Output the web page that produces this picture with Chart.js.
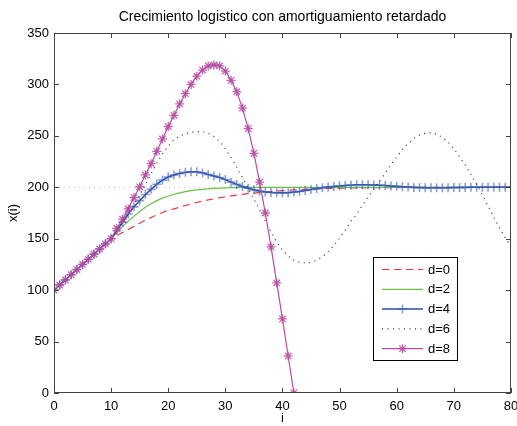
<!DOCTYPE html>
<html>
<head>
<meta charset="utf-8">
<script src="https://cdn.jsdelivr.net/npm/chart.js@4.4.1/dist/chart.umd.min.js"></script>
<style>
html, body { margin: 0; padding: 0; background: #fff; }
#wrap { width: 517px; height: 426px; }
</style>
</head>
<body>
<div id="wrap"><canvas id="c" width="517" height="426"></canvas></div>
<script>
const d0 = [100,105,110,115,120,125,130,135,140,145,150,
  153,156,159,162,165,168,170.7,173.2,175.5,177.7,
  179,180.7,182.3,183.8,185.2,186.5,187.7,188.8,189.8,190.7,
  191.6,192.4,193.1,193.8,194.4,194.9,195.4,195.9,196.3,196.7,
  197.1,197.4,197.7,198,198.3,198.5,198.7,198.9,199,199.15,
  199.3,199.4,199.45,199.5,199.55,199.6,199.65,199.7,199.72,199.75,
  199.77,199.8,199.82,199.84,199.86,199.87,199.88,199.89,199.9,199.91,
  199.92,199.93,199.93,199.94,199.95,199.95,199.96,199.96,199.97,199.97]

const d2 = [100,105,110,115,120,125,130,135,140,145,150,
  156,162,167,172,176.5,180.5,184,187,189.5,191.5,
  193.2,194.6,195.8,196.7,197.4,198,198.5,198.9,199.2,199.4,
  199.6,199.7,199.8,199.9,200,200,200,200,200,200,
  200,200,200,200,200,200,200,200,200,200,
  200,200,200,200,200,200,200,200,200,200,
  200,200,200,200,200,200,200,200,200,200,
  200,200,200,200,200,200,200,200,200,200]

const d4 = [100,105,110,115,120,125,130,135,140,145,150,
  158,166,174,181,187,193,198,203,207,210,
  212,213.5,214.5,215,215,214,212.5,211,209.5,207.5,
  205,202.8,200.8,199,197.5,196.3,195.5,195,194.7,194.6,
  194.8,195.3,196,196.9,197.8,198.7,199.5,200.2,200.8,201.3,
  201.8,202.1,202.4,202.5,202.5,202.3,202,201.7,201.3,200.9,
  200.5,200.2,199.9,199.7,199.6,199.5,199.5,199.5,199.6,199.7,
  199.8,199.9,200,200,200.1,200.1,200.1,200.1,200,200]

const d6 = [100,105,110,115,120,125,130,135,140,145,150,
  158,166,174.5,183.5,192.5,202.5,213,223.5,232.5,240,
  246,249.8,252,253.5,254.2,254,252.5,249.5,244.5,237.5,
  229,219.5,209.5,199,188.5,178,167,156.5,147,139,
  133,129,127,126.5,127,129,132.5,137.5,143.5,150.5,
  158.5,167,174,182.5,190.5,198.5,206,214,222,229.5,
  236.5,242.5,247.5,250.8,252.5,253,251.8,248.5,244,237.5,
  230,221.5,212.5,203,192.5,182,171,160.5,151,143]

const d8 = [100,105,110,115,120,125,130,135,140,145,150,
  160,169,179,190,200.5,212,223,235,247,259,
  270,281,291,300,308,314,318,319,318,313,
  304,293,277,257,233,205,175,142,107,72,
  36,0]

const capacity = [200, 200]
const capacityAt = [0, 80]

const xTicks = [0, 10, 20, 30, 40, 50, 60, 70, 80]
const yTicks = [0, 50, 100, 150, 200, 250, 300, 350]

const font = '"Liberation Sans", Arial, Helvetica, sans-serif'

function pts(values) {
    return values.map((v, i) => ({ x: i, y: v }))
}

const framePlugin = {
    id: 'frame',
    afterDraw(chart) {
        const { ctx, chartArea: a, scales } = chart
        ctx.save()
        ctx.strokeStyle = '#444'
        ctx.lineWidth = 1
        ctx.strokeRect(Math.round(a.left) + 0.5, Math.round(a.top) + 0.5,
            Math.round(a.right - a.left) - 1, Math.round(a.bottom - a.top) - 1)
        ctx.beginPath()
        for (const t of xTicks) {
            const x = Math.round(scales.x.getPixelForValue(t)) + 0.5
            ctx.moveTo(x, a.bottom); ctx.lineTo(x, a.bottom - 5)
            ctx.moveTo(x, a.top); ctx.lineTo(x, a.top + 5)
        }
        for (const t of yTicks) {
            const y = Math.round(scales.y.getPixelForValue(t)) + 0.5
            ctx.moveTo(a.left, y); ctx.lineTo(a.left + 5, y)
            ctx.moveTo(a.right, y); ctx.lineTo(a.right - 5, y)
        }
        ctx.stroke()

        // titulo
        ctx.fillStyle = '#000'
        ctx.font = '14px ' + font
        ctx.textAlign = 'center'
        ctx.textBaseline = 'middle'
        ctx.fillText('Crecimiento logistico con amortiguamiento retardado', (a.left + a.right) / 2, 17)
        ctx.restore()
    }
}

const legendPlugin = {
    id: 'boxLegend',
    afterDraw(chart) {
        const { ctx, chartArea: a } = chart
        const items = chart.data.datasets.filter(ds => ds.label)
        const w = 84, h = 103
        const left = Math.round(a.right) - 54 - w
        const top = Math.round(a.bottom) - 33 - h
        ctx.save()
        ctx.fillStyle = '#fff'
        ctx.fillRect(left, top, w, h)
        ctx.strokeStyle = '#000'
        ctx.lineWidth = 1
        ctx.strokeRect(left + 0.5, top + 0.5, w, h)
        items.forEach((ds, k) => {
            const y = top + 12.5 + k * 19.8
            ctx.strokeStyle = ds.borderColor
            ctx.lineWidth = ds.borderWidth
            ctx.setLineDash(ds.borderDash || [])
            ctx.beginPath()
            ctx.moveTo(left + 9, y)
            ctx.lineTo(left + 50, y)
            ctx.stroke()
            ctx.setLineDash([])
            if (ds.pointRadius > 0) {
                ctx.strokeStyle = ds.pointBorderColor
                ctx.lineWidth = ds.pointBorderWidth
                Chart.helpers.drawPoint(ctx, {
                    pointStyle: ds.pointStyle, radius: ds.pointRadius,
                    rotation: 0, borderWidth: ds.pointBorderWidth
                }, left + 29.5, y)
            }
            ctx.fillStyle = '#000'
            ctx.font = '13px ' + font
            ctx.textAlign = 'left'
            ctx.textBaseline = 'middle'
            ctx.fillText(ds.label, left + 55, y + 0.5)
        })
        ctx.restore()
    }
}

const chart = new Chart(document.getElementById('c'), {
    type: 'line',
    data: {
        datasets: [
            {
                label: '',
                data: capacity.map((v, i) => ({ x: capacityAt[i], y: v })),
                borderColor: 'rgba(238,150,165,0.9)',
                borderWidth: 1,
                borderDash: [1, 4],
                pointRadius: 0,
                order: 6
            },
            {
                label: 'd=0',
                data: pts(d0),
                borderColor: '#e8373c',
                borderWidth: 1.2,
                borderDash: [7, 5],
                pointRadius: 0,
                order: 5
            },
            {
                label: 'd=2',
                data: pts(d2),
                borderColor: '#6cc04a',
                borderWidth: 1.2,
                pointRadius: 0,
                order: 4
            },
            {
                label: 'd=4',
                data: pts(d4),
                borderColor: '#2c4ea6',
                borderWidth: 1.5,
                pointStyle: 'cross',
                pointRadius: 4.5,
                pointBorderWidth: 1.6,
                pointBorderColor: 'rgba(60,95,185,0.6)',
                pointBackgroundColor: 'rgba(0,0,0,0)',
                order: 3
            },
            {
                label: 'd=6',
                data: pts(d6),
                borderColor: '#333',
                borderWidth: 1.2,
                borderDash: [1, 4.5],
                pointRadius: 0,
                order: 2
            },
            {
                label: 'd=8',
                data: pts(d8),
                borderColor: '#b94ca3',
                borderWidth: 1.2,
                pointStyle: 'star',
                pointRadius: 4.5,
                pointBorderWidth: 1.3,
                pointBorderColor: 'rgba(180,70,160,0.85)',
                pointBackgroundColor: 'rgba(0,0,0,0)',
                order: 1
            }
        ]
    },
    options: {
        responsive: false,
        animation: false,
        layout: {
            padding: { top: 33, right: 6, left: 0, bottom: 0 }
        },
        elements: {
            line: { tension: 0, fill: false }
        },
        plugins: {
            legend: { display: false },
            title: { display: false },
            tooltip: { enabled: false }
        },
        scales: {
            x: {
                type: 'linear',
                min: 0,
                max: 80,
                afterFit(scale) {
                    scale.height = 33
                    scale.paddingLeft = 0
                    scale.paddingRight = 6
                },
                afterBuildTicks(scale) { scale.ticks = xTicks.map(v => ({ value: v })) },
                grid: { display: false, drawTicks: false },
                border: { display: false },
                ticks: { color: '#000', font: { family: font, size: 13 }, padding: 6, maxRotation: 0 },
                title: { display: true, text: 'i', color: '#000', font: { family: font, size: 13 }, padding: { top: 0, bottom: 0 } }
            },
            y: {
                min: 0,
                max: 350,
                afterFit(scale) { scale.width = 54 },
                afterBuildTicks(scale) { scale.ticks = yTicks.map(v => ({ value: v })) },
                grid: { display: false, drawTicks: false },
                border: { display: false },
                ticks: { color: '#000', font: { family: font, size: 13 }, padding: 5 },
                title: { display: true, text: 'x(i)', color: '#000', font: { family: font, size: 13 }, padding: { top: 6, bottom: 0 } }
            }
        }
    },
    plugins: [framePlugin, legendPlugin]
})
</script>
</body>
</html>
